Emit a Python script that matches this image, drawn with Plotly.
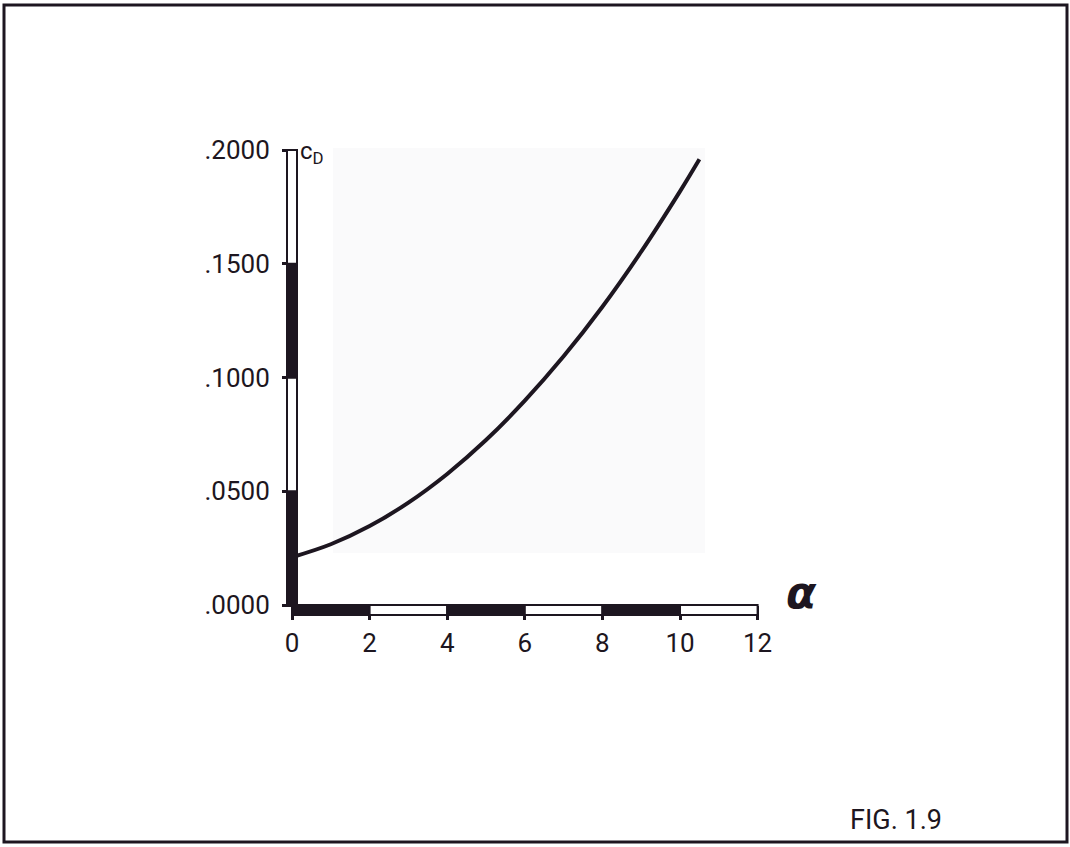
import plotly.graph_objects as go

# ---- data ----
alpha = [0, 1, 2, 3, 4, 5, 6, 7, 8, 9, 10, 10.5]
cd = [0.0210, 0.0267, 0.0347, 0.0450, 0.0576, 0.0725, 0.0898, 0.1093, 0.1311, 0.1553, 0.1818, 0.1959]

x_ticks = [0, 2, 4, 6, 8, 10, 12]
x_tick_text = ["0", "2", "4", "6", "8", "10", "12"]
y_ticks = [0.0, 0.05, 0.10, 0.15, 0.20]
y_tick_text = [".0000", ".0500", ".1000", ".1500", ".2000"]

INK = "#1d1620"
FONT = "Roboto"
W, H = 1070, 847
X0_PX, X_PER_UNIT = 292, 38.8
Y0_PX, Y_PER_UNIT = 605, 2275.0

x_range = [-X0_PX / X_PER_UNIT, (W - X0_PX) / X_PER_UNIT]
y_range = [(Y0_PX - H) / Y_PER_UNIT, Y0_PX / Y_PER_UNIT]

fig = go.Figure()
fig.add_trace(go.Scatter(
    x=alpha, y=cd, mode="lines",
    line=dict(color=INK, width=4, shape="spline", smoothing=1.0),
    hoverinfo="skip", showlegend=False,
))

shapes = []
# outer frame
shapes.append(dict(type="rect", xref="paper", yref="paper",
                   x0=4 / W, x1=1067 / W, y0=(H - 842) / H, y1=(H - 5) / H,
                   line=dict(color=INK, width=3), fillcolor="rgba(0,0,0,0)", layer="above"))
# faint scan shading behind the plot
shapes.append(dict(type="rect", xref="paper", yref="paper",
                   x0=333 / W, x1=705 / W, y0=(H - 553) / H, y1=(H - 148) / H,
                   line=dict(width=0), fillcolor="#fafafb", layer="below"))

# y axis bar: alternating filled/hollow segments
for i in range(len(y_ticks) - 1):
    shapes.append(dict(type="rect", xref="x", yref="y", xsizemode="pixel", xanchor=0,
                       x0=-5, x1=5, y0=y_ticks[i], y1=y_ticks[i + 1],
                       fillcolor=INK if i % 2 == 0 else "white",
                       line=dict(color=INK, width=2), layer="above"))
# x axis bar
for i in range(len(x_ticks) - 1):
    shapes.append(dict(type="rect", xref="x", yref="y", ysizemode="pixel", yanchor=0,
                       y0=-10, y1=0, x0=x_ticks[i], x1=x_ticks[i + 1],
                       fillcolor=INK if i % 2 == 0 else "white",
                       line=dict(color=INK, width=2), layer="above"))

annotations = [
    dict(text="c<sub>D</sub>", xref="paper", yref="paper", x=298 / W, y=(H - 153) / H,
         xanchor="left", yanchor="middle", showarrow=False,
         font=dict(family=FONT, size=24, color=INK)),
    dict(text="<i><b>α</b></i>", xref="paper", yref="paper", x=801 / W, y=(H - 592) / H,
         xanchor="center", yanchor="middle", showarrow=False,
         font=dict(family="DejaVu Sans", size=44, color=INK)),
    dict(text="FIG. 1.9", xref="paper", yref="paper", x=848 / W, y=(H - 820) / H,
         xanchor="left", yanchor="middle", showarrow=False,
         font=dict(family=FONT, size=27, color=INK)),
]

fig.update_layout(
    width=W, height=H,
    margin=dict(l=0, r=0, t=0, b=0),
    paper_bgcolor="white", plot_bgcolor="white",
    shapes=shapes, annotations=annotations, showlegend=False,
    xaxis=dict(range=x_range, anchor="free", position=(H - Y0_PX) / H,
               showgrid=False, zeroline=False, showline=False,
               tickvals=x_ticks, ticktext=x_tick_text,
               ticks="outside", ticklen=14, tickwidth=3, tickcolor=INK,
               ticklabelstandoff=1,
               tickfont=dict(family=FONT, size=26, color=INK)),
    yaxis=dict(range=y_range, anchor="free", position=X0_PX / W,
               showgrid=False, zeroline=False, showline=False,
               tickvals=y_ticks, ticktext=y_tick_text,
               ticks="outside", ticklen=10, tickwidth=3, tickcolor=INK,
               ticklabelstandoff=7,
               tickfont=dict(family=FONT, size=26, color=INK)),
)

fig.write_html("out.html", config={"displayModeBar": False},
               post_script="document.body.style.margin='0';document.body.style.overflow='hidden';")
